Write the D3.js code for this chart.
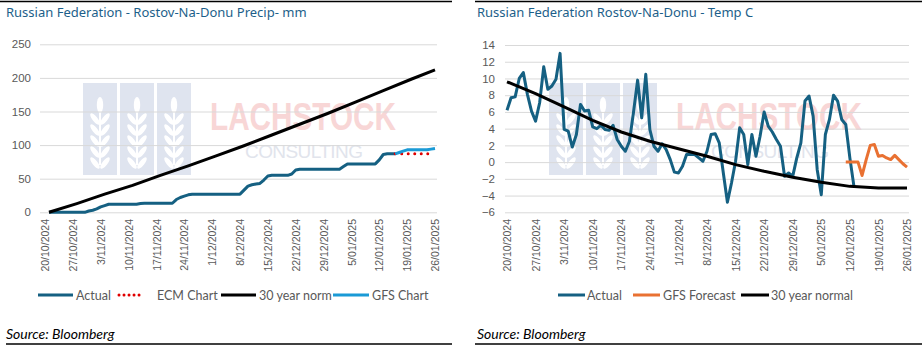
<!DOCTYPE html>
<html>
<head>
<meta charset="utf-8">
<script src="https://cdn.jsdelivr.net/npm/d3@7"></script>
<style>
  body { margin: 0; background: #fff; }
  svg { display: block; font-family: "Noto Sans", "Open Sans", sans-serif; }
</style>
</head>
<body>
<svg id="chart" width="922" height="346"></svg>
<script>
// ---------- data ----------
const axisDates = ["2024-10-20","2024-10-27","2024-11-03","2024-11-10","2024-11-17","2024-11-24",
  "2024-12-01","2024-12-08","2024-12-15","2024-12-22","2024-12-29","2025-01-05","2025-01-12",
  "2025-01-19","2025-01-26"];

// Precipitation (cumulative mm)
const precipTicks = [0, 50, 100, 150, 200, 250];
const precipActualStart = "2024-10-21";          // daily values from this date
const precipActual = [
  0,0,0,0,0,0,0,0,0,0,
  2,3,5,8,10,12,
  12,12,12,12,12,12,12,
  13,
  13.5,13.5,13.5,13.5,13.5,13.5,13.5,13.5,
  19,22,24,26,
  27,27,27,27,27,27,27,27,27,27,27,27,27,
  33,39,41,42,43,48,54,
  55,55,55,55,55,
  57,63,
  64,64,64,64,64,64,64,64,64,64,64,
  68,72,
  72,72,72,72,72,72,72,
  78,86,
  87,87,87
];
const gfsPrecipStart = "2025-01-16";
const gfsPrecip = [87,89,91,93,93,93,93,93,93,94,95];
const ecmPrecipStart = "2025-01-16";
const ecmPrecip = [87,87,87,87,87,87,87,87,87,87];
const normPrecipDates = ["2024-10-21","2024-10-28","2024-11-04","2024-11-11","2024-11-18","2024-11-25",
  "2024-12-02","2024-12-09","2024-12-16","2024-12-23","2024-12-30","2025-01-06","2025-01-13",
  "2025-01-20","2025-01-26"];
const normPrecip = [0,13,27,40,55,69,84,99,115,131,147,164,181,198,212];

// Temperature (deg C)
const tempTicks = [-6,-4,-2,0,2,4,6,8,10,12,14];
const tempActualStart = "2024-10-20";
const tempActual = [
  6.2,7.7,7.8,10.0,10.7,8.1,6.1,4.9,7.1,11.4,
  8.7,9.1,9.9,13.0,3.9,3.7,1.8,3.3,6.9,6.1,
  6.2,4.2,4.0,4.4,3.9,3.8,4.4,2.7,1.9,1.3,
  2.5,6.0,9.8,5.3,10.5,3.9,1.9,1.3,2.2,1.5,
  0.3,-1.2,-1.3,-0.5,0.9,0.9,0.9,0.5,0.1,1.3,
  3.3,3.4,2.3,-1.3,-4.8,-2.5,0.1,4.1,3.3,-0.3,
  3.3,0.7,3.1,6.0,4.3,3.6,2.7,1.9,-1.7,-1.3,
  -1.7,0.5,2.3,7.3,7.9,5.5,-0.9,-3.9,3.3,5.1,
  8.0,7.3,5.1,4.5,0.5,-2.9
];
const gfsTempStart = "2025-01-11";
const gfsTemp = [0,0,0,0,-1.6,0.3,2.0,2.1,0.7,0.8,0.5,0.3,0.8,0.3,-0.2,-0.6];
const normTemp = [9.6,8.2,6.6,5.0,3.6,2.5,1.6,0.7,-0.3,-1.1,-1.8,-2.4,-2.9,-3.1,-3.1];

// ---------- helpers ----------
const parse = d3.timeParse("%Y-%m-%d");
const fmt = d3.timeFormat("%-d/%m/%Y");
const daily = (start, vals) => { const s = parse(start); return vals.map((v, i) => ({ date: d3.timeDay.offset(s, i), v })); };
const paired = (dates, vals) => dates.map((d, i) => ({ date: parse(d), v: vals[i] }));

const C = {
  actual: "#156082", gfsBlue: "#1a9ad6", orange: "#e97132", norm: "#000000", ecm: "#e00000",
  title: "#1d5f8a", grid: "#d9d9d9", tick: "#595959"
};
const LEGEND_FONT = "Lato, 'Noto Sans', sans-serif";

const svg = d3.select("#chart");

// Company watermark: three tiles with wheat ears plus the name
function watermark(g, ox) {
  const tiles = [0, 37, 74];
  tiles.forEach(dx => {
    const tx = ox + dx, ty = 83, tw = 34, th = 92;
    g.append("rect").attr("x", tx).attr("y", ty).attr("width", tw).attr("height", th).attr("fill", "#dfe4ef");
    const cx = tx + tw / 2;
    const w = g.append("g").attr("fill", "#ffffff").attr("stroke", "none");
    w.append("ellipse").attr("cx", cx).attr("cy", ty + 22).attr("rx", 3.2).attr("ry", 8);
    for (let i = 0; i < 5; i++) {
      const cy = ty + 36 + i * 11;
      w.append("ellipse").attr("cx", cx - 5).attr("cy", cy).attr("rx", 2.6).attr("ry", 7)
        .attr("transform", `rotate(-38,${cx - 5},${cy})`);
      w.append("ellipse").attr("cx", cx + 5).attr("cy", cy).attr("rx", 2.6).attr("ry", 7)
        .attr("transform", `rotate(38,${cx + 5},${cy})`);
    }
    w.append("rect").attr("x", cx - 1).attr("y", ty + 30).attr("width", 2).attr("height", th - 40);
  });
  g.append("text").attr("x", ox + 127).attr("y", 130).attr("font-size", 38).attr("font-weight", 700)
    .attr("textLength", 186).attr("lengthAdjust", "spacingAndGlyphs")
    .attr("fill", "#f8d6d6").attr("font-family", "'Liberation Sans', Arial, sans-serif").text("LACHSTOCK");
  g.append("text").attr("x", ox + 162).attr("y", 158).attr("font-size", 19)
    .attr("textLength", 118).attr("lengthAdjust", "spacing")
    .attr("fill", "#e1e4ec").attr("font-family", "'Liberation Sans', Arial, sans-serif").text("CONSULTING");
}

function panel(cfg) {
  const g = svg.append("g");
  const x = d3.scaleTime().domain([parse("2024-10-20"), parse("2025-01-26")]).range([cfg.x0, cfg.x1]);
  const y = d3.scaleLinear().domain(cfg.yDomain).range([cfg.yBottom, cfg.yTop]);

  // frame rules
  g.append("line").attr("x1", cfg.frameTop[0]).attr("x2", cfg.frameTop[1]).attr("y1", 1.5).attr("y2", 1.5)
    .attr("stroke", "#000").attr("stroke-width", 1.5);
  g.append("line").attr("x1", cfg.frameBottom[0]).attr("x2", cfg.frameBottom[1]).attr("y1", 344).attr("y2", 344)
    .attr("stroke", "#000").attr("stroke-width", 1.5);

  g.append("text").attr("x", cfg.titleX).attr("y", 17).attr("font-size", 13).attr("fill", C.title).text(cfg.title);

  watermark(g, cfg.wmX);

  // gridlines and value labels
  const ya = g.append("g").attr("transform", `translate(${cfg.gx0},0)`)
    .call(d3.axisLeft(y).tickValues(cfg.yTicks).tickSize(-(cfg.gx1 - cfg.gx0)).tickPadding(cfg.gx0 - cfg.labelRight));
  ya.select(".domain").remove();
  ya.selectAll(".tick line").attr("stroke", C.grid).attr("stroke-width", 1);
  ya.selectAll(".tick text").attr("fill", C.tick).attr("font-size", 11.5).attr("font-family", "inherit");

  // date labels
  const xa = g.append("g").attr("transform", `translate(0,219)`)
    .call(d3.axisBottom(x).tickValues(axisDates.map(parse)).tickSize(0).tickFormat(fmt));
  xa.select(".domain").remove();
  xa.selectAll(".tick text").attr("transform", "rotate(-90)").attr("x", 0).attr("y", 0).attr("dy", "0.35em")
    .attr("text-anchor", "end").attr("fill", C.tick).attr("font-size", 10.5).attr("font-family", "inherit");

  const line = d3.line().x(d => x(d.date)).y(d => y(d.v));
  cfg.series.forEach(s => {
    g.append("path").datum(s.data).attr("d", line).attr("fill", "none").attr("stroke", s.color)
      .attr("stroke-width", s.width || 3).attr("stroke-linejoin", "round")
      .attr("stroke-linecap", s.dash ? "round" : "butt")
      .attr("stroke-dasharray", s.dash || null);
  });

  // legend
  cfg.legend.forEach(l => {
    g.append("line").attr("x1", l.x).attr("x2", l.x + l.len).attr("y1", 295).attr("y2", 295)
      .attr("stroke", l.color).attr("stroke-width", 3)
      .attr("stroke-linecap", l.dash ? "round" : "butt").attr("stroke-dasharray", l.dash || null);
    g.append("text").attr("x", l.x + l.len + l.gap).attr("y", 299.5).attr("font-size", 12.5)
      .attr("font-family", LEGEND_FONT).attr("fill", C.tick).text(l.label);
  });

  g.append("text").attr("x", cfg.titleX).attr("y", 339).attr("font-size", 14).attr("font-style", "italic")
    .attr("fill", "#000").attr("font-family", LEGEND_FONT).text("Source: Bloomberg");
}

panel({
  title: "Russian Federation - Rostov-Na-Donu Precip- mm", titleX: 6,
  frameTop: [0, 452], frameBottom: [6, 452],
  x0: 45, x1: 435, gx0: 40, gx1: 437, labelRight: 31,
  yDomain: [0, 250], yBottom: 212.3, yTop: 44.3, yTicks: precipTicks,
  wmX: 83,
  series: [
    { data: daily(precipActualStart, precipActual), color: C.actual },
    { data: daily(ecmPrecipStart, ecmPrecip), color: C.ecm, dash: "0.01 6.5", width: 3 },
    { data: paired(normPrecipDates, normPrecip), color: C.norm },
    { data: daily(gfsPrecipStart, gfsPrecip), color: C.gfsBlue }
  ],
  legend: [
    { x: 38, len: 35, gap: 3, color: C.actual, label: "Actual" },
    { x: 119, len: 25, gap: 13, color: C.ecm, dash: "0.01 5", label: "ECM Chart" },
    { x: 221, len: 35, gap: 3, color: C.norm, label: "30 year norm" },
    { x: 333, len: 36, gap: 3, color: C.gfsBlue, label: "GFS Chart" }
  ]
});

panel({
  title: "Russian Federation Rostov-Na-Donu - Temp C", titleX: 477,
  frameTop: [475, 922], frameBottom: [475, 922],
  x0: 507, x1: 907, gx0: 505, gx1: 909, labelRight: 495,
  yDomain: [-6, 14], yBottom: 212.3, yTop: 45, yTicks: tempTicks,
  wmX: 549,
  series: [
    { data: daily(tempActualStart, tempActual), color: C.actual },
    { data: daily(gfsTempStart, gfsTemp), color: C.orange },
    { data: paired(axisDates, normTemp), color: C.norm }
  ],
  legend: [
    { x: 558, len: 27, gap: 2, color: C.actual, label: "Actual" },
    { x: 633, len: 27, gap: 3, color: C.orange, label: "GFS Forecast" },
    { x: 741, len: 28, gap: 2, color: C.norm, label: "30 year normal" }
  ]
});
</script>
</body>
</html>
